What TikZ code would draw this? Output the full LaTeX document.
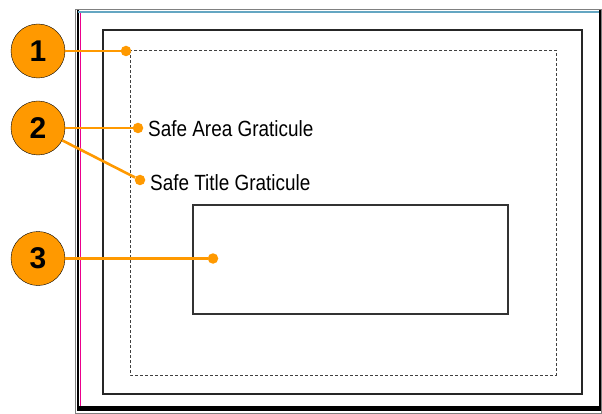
\documentclass[tikz,border=0pt]{standalone}
\usepackage{fontspec}
\setmainfont{Liberation Sans}
\newfontfamily\gratfont[FakeStretch=0.86]{Liberation Sans}
\definecolor{callout}{RGB}{255,153,0}

\begin{document}
\begin{tikzpicture}[x=1pt,y=-1pt,
    callnum/.style={circle,draw=black,fill=callout,minimum size=54pt,inner sep=0pt,
      font=\fontsize{30}{30}\selectfont\bfseries},
    calldot/.style={circle,fill=callout,minimum size=10.5pt,inner sep=0pt},
    callline/.style={draw=callout,line width=2.6pt},
    gratlabel/.style={anchor=base west,inner sep=0pt,font=\fontsize{22}{26}\selectfont\gratfont}]
    \useasboundingbox (0,0) rectangle (602,414);
    % screen frame
    \draw[gray, line width=1.2] (75.5,9.5) rectangle (601.2,413.4);
    \draw[black, line width=1.5] (78,10.5) -- (78,409);
    \draw[black, line width=2] (599.5,10.5) -- (599.5,410);
    \draw[black, line width=4.5] (77,408.5) -- (601,408.5);
    \draw[cyan!50!gray, line width=1.5] (78,11.8) -- (598.5,11.8);
    \draw[magenta, line width=1] (80.5,13) -- (80.5,406);
    \draw[black!85, line width=1.5] (103,30) rectangle (582,394);
    \draw[black!75, dash pattern=on 3pt off 2pt] (130,50) rectangle (556,375);
    \draw[black!80, line width=1.5] (193,205) rectangle (508,314);
    % callouts
    \node[callnum] (c1) at (38,51) {1};
    \node[callnum] (c2) at (38,128) {2};
    \node[callnum] (c3) at (38,258.5) {3};
    \node[calldot] (d1) at (126,51) {};
    \node[calldot] (d2a) at (138,128) {};
    \node[calldot] (d2b) at (140,180) {};
    \node[calldot] (d3) at (213,258.5) {};
    \node[gratlabel] (area) at (148,137) {Safe Area Graticule};
    \node[gratlabel] (title) at (150,190) {Safe Title Graticule};
    \draw[callline] (c1) -- (d1);
    \draw[callline] (c2) -- (d2a);
    \draw[callline] (c2) -- (d2b);
    \draw[callline] (c3) -- (d3);
\end{tikzpicture}
\end{document}
